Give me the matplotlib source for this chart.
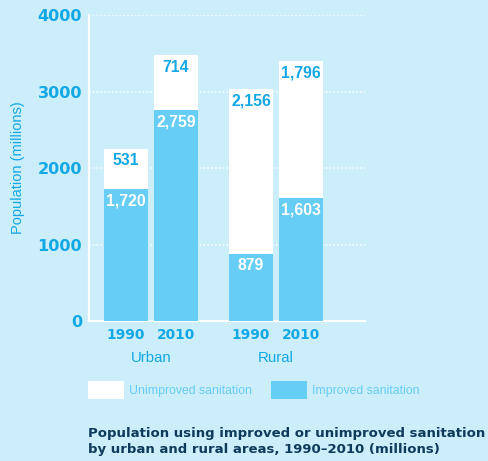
import matplotlib.pyplot as plt
import numpy as np

# data (millions)
groups = ['Urban', 'Rural']
years = ['1990', '2010', '1990', '2010']
improved = [1720, 2759, 879, 1603]
unimproved = [531, 714, 2156, 1796]

bg = '#cceefa'
blue = '#12a8e5'
light = '#66cdf5'
navy = '#0e3a5b'

x = np.array([0, 1, 2.5, 3.5])

fig = plt.figure(figsize=(4.88, 4.61), dpi=100, facecolor=bg)
ax = fig.add_axes([89/488, 140/461, 276/488, 306/461], facecolor=bg)

ax.yaxis.grid(True, color='white', linestyle=(0, (1, 1.5)), linewidth=1.1)
ax.set_axisbelow(True)

b1 = ax.bar(x, improved, width=0.88, color=light, label='Improved sanitation', zorder=3)
b2 = ax.bar(x, unimproved, width=0.88, bottom=improved, color='white',
            label='Unimproved sanitation', zorder=3)

for xi, imp, unimp in zip(x, improved, unimproved):
    ax.annotate(f'{imp:,}', (xi, imp), xytext=(0, -8.6), textcoords='offset points',
                ha='center', va='center', color='white', fontsize=11.3,
                fontfamily='Liberation Sans', fontweight='heavy', zorder=4)
    ax.annotate(f'{unimp:,}', (xi, imp + unimp), xytext=(0, -8.6), textcoords='offset points',
                ha='center', va='center', color=blue, fontsize=11.3,
                fontfamily='Liberation Sans', fontweight='heavy', zorder=4)

ax.set_xlim(-0.74, 4.78)
ax.set_ylim(0, 4000)
ax.set_yticks([0, 1000, 2000, 3000, 4000])
ax.set_xticks(x)
ax.set_xticklabels(years)
ax.tick_params(length=0, colors=blue)
ax.tick_params(axis='y', pad=5, labelsize=11.6)
ax.tick_params(axis='x', pad=5, labelsize=9.9)
for t in ax.get_yticklabels() + ax.get_xticklabels():
    t.set_fontweight('bold')
    t.set_fontfamily('DejaVu Sans')

for s in ['top', 'right']:
    ax.spines[s].set_visible(False)
for s in ['left', 'bottom']:
    ax.spines[s].set_color('white')
    ax.spines[s].set_linewidth(1.6)

for gx, g in zip([0.5, 3.0], groups):
    ax.text(gx, -0.121, g, transform=ax.get_xaxis_transform(), ha='center', va='center',
            color=blue, fontsize=10.8, fontfamily='Liberation Sans')

ax.set_ylabel('Population (millions)', color=blue, fontsize=10.5,
              fontfamily='Liberation Sans')
ax.yaxis.set_label_coords(-0.232, 0.5)

fig.legend(handles=[b2, b1], loc='upper left', bbox_to_anchor=(88/488, 1 - 381/461),
           ncol=2, frameon=False, prop={'family': 'Liberation Sans', 'size': 8.8},
           labelcolor=light, handlelength=2.95, handleheight=1.9, handletextpad=0.4,
           columnspacing=1.55, borderpad=0, borderaxespad=0)

fig.text(88/488, 1 - 441.5/461,
         'Population using improved or unimproved sanitation\nby urban and rural areas, 1990\u20132010 (millions)',
         ha='left', va='center', color=navy, fontsize=9.5, fontweight='bold',
         fontfamily='DejaVu Sans', linespacing=1.25)

fig.savefig('out.png', dpi=100, facecolor=bg)
